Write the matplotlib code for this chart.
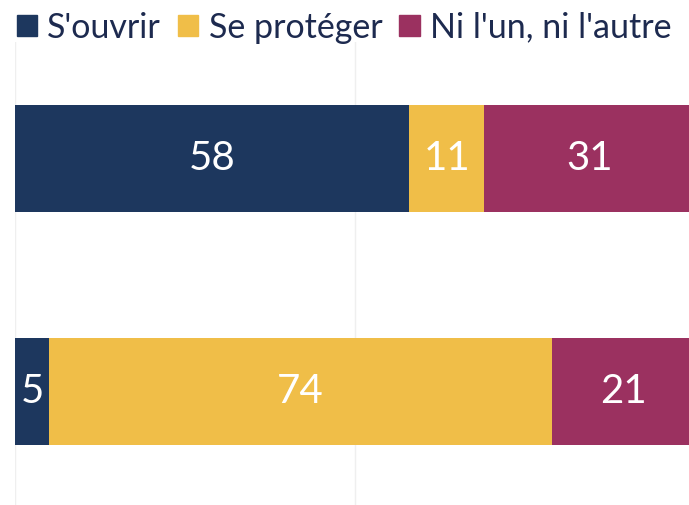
import matplotlib
matplotlib.use("Agg")
import matplotlib.pyplot as plt
from matplotlib.patches import Patch

categories = ["A", "B"]
series_names = ["S'ouvrir", "Se protéger", "Ni l'un, ni l'autre"]
s_ouvrir = [58, 5]
se_proteger = [11, 74]
ni_lun = [31, 21]
colors = ["#1d375e", "#f0be48", "#9b3160"]

plt.rcParams['font.family'] = ['Lato', 'DejaVu Sans']

fig = plt.figure(figsize=(6.89, 5.05), dpi=100)
W, H = 689, 505
ax = fig.add_axes([15 / W, (H - 508) / H, 680 / W, (508 - 42) / H])

series = [s_ouvrir, se_proteger, ni_lun]
y = list(range(len(categories)))
left = [0] * len(categories)
for name, vals, c in zip(series_names, series, colors):
    ax.barh(y, vals, left=left, height=0.46, color=c, label=name, zorder=2)
    for yi, v, l in zip(y, vals, left):
        ax.text(l + v / 2, yi, str(v), ha="center", va="center",
                color="white", fontsize=29, zorder=3)
    left = [a + b for a, b in zip(left, vals)]

ax.set_xlim(0, 100)
ax.set_ylim(1.5, -0.5)
ax.set_xticks([0, 50, 100])
ax.grid(axis="x", color="#efefef", linewidth=1, zorder=0)
ax.tick_params(left=False, bottom=False, labelleft=False, labelbottom=False)
for s in ax.spines.values():
    s.set_visible(False)

handles = [Patch(color=c) for c in colors]
fig.legend(handles, series_names, loc="upper left", bbox_to_anchor=(3 / W, 1 + 2 / H),
           ncol=3, frameon=False, fontsize=24.5, handlelength=0.6, handleheight=0.6,
           handletextpad=0.3, columnspacing=0.5, labelcolor="#1d2a4f", borderaxespad=0)

fig.savefig("out.png", dpi=100)
